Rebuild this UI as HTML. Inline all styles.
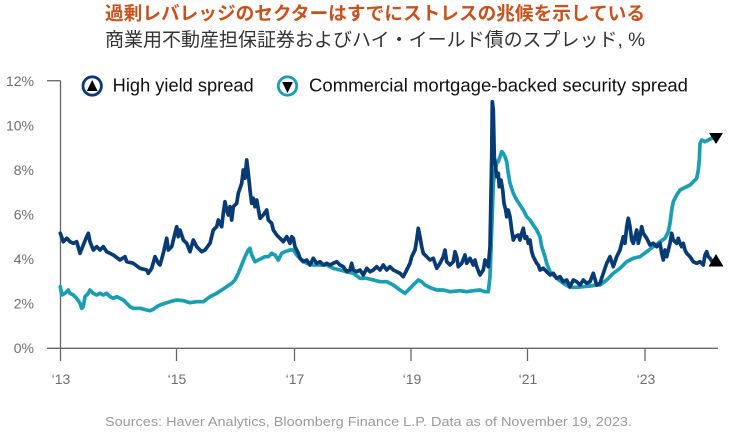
<!DOCTYPE html>
<html><head><meta charset="utf-8"><style>
html,body{margin:0;padding:0;background:#fff;}
svg{display:block;}
</style></head><body>
<svg width="733" height="433" viewBox="0 0 733 433" xmlns="http://www.w3.org/2000/svg">
<rect width="733" height="433" fill="#fff"/>
<text x="105" y="20" font-family="Liberation Sans, Noto Sans CJK JP, sans-serif" font-size="18.5" font-weight="bold" fill="#c9511c" textLength="540" lengthAdjust="spacingAndGlyphs">過剰レバレッジのセクターはすでにストレスの兆候を示している</text>
<text x="105" y="46" font-family="Liberation Sans, Noto Sans CJK JP, sans-serif" font-size="19" fill="#333" textLength="540" lengthAdjust="spacingAndGlyphs">商業用不動産担保証券およびハイ・イールド債のスプレッド, %</text>

<g font-family="Liberation Sans, sans-serif" font-size="14" fill="#6e6e6e" text-anchor="end">
<text x="34" y="86">12%</text>
<text x="34" y="130.5">10%</text>
<text x="34" y="175">8%</text>
<text x="34" y="219.5">6%</text>
<text x="34" y="264">4%</text>
<text x="34" y="308.5">2%</text>
<text x="34" y="353">0%</text>
</g>
<g stroke="#666" stroke-width="1.3" fill="none">
<line x1="60.5" y1="80.7" x2="60.5" y2="348.3"/>
<line x1="47" y1="80.7" x2="60.5" y2="80.7"/>
<line x1="47" y1="348.3" x2="718" y2="348.3"/>
<line x1="60.5" y1="348.3" x2="60.5" y2="361"/>
<line x1="176.5" y1="348.3" x2="176.5" y2="361"/>
<line x1="294.5" y1="348.3" x2="294.5" y2="361"/>
<line x1="411" y1="348.3" x2="411" y2="361"/>
<line x1="527.5" y1="348.3" x2="527.5" y2="361"/>
<line x1="645" y1="348.3" x2="645" y2="361"/>
</g>
<g font-family="Liberation Sans, sans-serif" font-size="14" fill="#6e6e6e" text-anchor="middle">
<text x="61" y="384">‘13</text>
<text x="177" y="384">‘15</text>
<text x="295" y="384">‘17</text>
<text x="412" y="384">‘19</text>
<text x="528" y="384">‘21</text>
<text x="646" y="384">‘23</text>
</g>

<!-- CMBS -->
<polyline fill="none" stroke="#1b9db3" stroke-width="3.7" stroke-linejoin="round" stroke-linecap="round" points="60.3,286.7 61.7,295 65,293.3 68.3,290 70,293.3 73.3,295 76.7,298.3 80,303.3 81.7,308.3 83.3,306.7 85,296.7 88.3,293.3 90,290 93.3,293.3 96.7,295 100,293.3 103.3,295 106.7,293.3 110,296.7 113.3,298.3 116.7,296.7 120,298.3 123.3,300 126.7,303.3 130,306.7 133.3,308.3 140,308.3 146.7,310 150,310.7 153.3,309.3 156.7,306.7 160,305 165,303.3 170,301.7 176.7,300 183.3,300.7 190,302.7 196.7,301.7 203.3,301.7 210,296.7 216.7,293.3 221.7,290 226.7,286.7 231.7,283.3 235,280 238.3,273.3 241.7,265 245,256.7 248.3,250 250,248.3 251.7,255 255,261.7 258.3,260 261.7,258.3 265,256.7 268.3,256.7 271.7,253.3 275,255 278.3,260 281.7,253.3 285,251.7 290,250 293.3,250 296.7,255 300,258.3 306.7,263.3 313.3,265 320,265 326.7,265 333.3,268.3 340,270 346.7,271.7 353.3,273.3 360,278.3 366.7,278.3 373.3,280 380,281.7 386.7,281.7 393.3,285 400,290 405,293.3 410,288.3 415,283.3 418.3,280 421.7,281.7 425,285 428.3,286.7 431.7,288.3 436.7,290 443.3,290 450,291.7 460,290.7 466.7,291.7 473.3,290.7 480,290 485,291.7 488.3,291.7 490,276.7 491.7,230 493.3,183.3 495,170 496.7,163.3 498.3,161.7 500,156.7 501.7,151.7 503.3,153.3 505,156.7 506.7,161.7 508.3,173.3 510,183.3 513.3,193.3 516.7,200 520,205 523.3,210 526.7,216.7 530,220 533.3,225 536.7,230 540,236.7 541.7,246.7 545,256.7 546.7,263.3 550,271.7 556.7,278.3 563.3,283.3 570,287.3 576.7,287.3 583.3,286.7 590,286 596.7,285 600,285 606.7,280 613.3,273.3 620,268.3 626.7,261.7 633.3,258.3 640,256.7 646.7,251.7 653.3,246.7 660,241.7 665,238.3 668.3,231.7 670,223.3 671.7,210 673.3,201.7 676.7,195 680,190 683.3,188.3 686.7,186.7 690,185 693.3,181.7 696.7,178.3 698.3,170 699.3,160 700,143.3 701.7,140 705,141.7 708.3,140 711.7,138.3 714,137"/>

<!-- High yield -->
<polyline fill="none" stroke="#083b73" stroke-width="3.7" stroke-linejoin="round" stroke-linecap="round" points="60.3,233.3 63.3,241.7 66.7,238.3 70,241.7 73.3,243.3 76.7,241.7 80,253.3 83.3,245 86.7,236.7 88.3,233.3 90,241.7 93.3,250 96.7,246.7 100,250 103.3,246.7 106.7,251.7 113.3,255 120,260 125,256.7 126.7,261.7 133.3,263.3 140,268.3 146.7,270 148.3,273.3 151.7,268.3 155,256.7 158.3,263.3 160,265 163.3,253.3 166.7,238.3 168.3,250 171.7,246.7 175,233.3 176.7,226.7 178.3,236.7 180,230 181.7,235 183.3,240 186.7,243.3 190,251.7 193.3,240 196.7,246.7 201.7,251.7 205,250 210,243.3 213.3,230 216.7,226.7 218.3,220 221.7,226.7 223.3,213.3 225,201.7 226.7,210 228.3,215 230,206.7 231.7,220 233.3,206.7 236.7,203.3 238.3,193.3 241.7,183.3 243.3,170 245,178.3 246.7,160 248.3,173.3 250,190 251.7,203.3 253.3,198.3 255,206.7 256.7,200 260,218.3 263.3,215 266.7,210 268.3,220 271.7,223.3 273.3,230 276.7,235 280,238.3 283.3,241.7 286.7,236.7 290,243.3 291.7,236.7 293.3,238.3 295,246.7 298.3,253.3 300,258.3 303.3,261.7 306.7,260 310,265 313.3,258.3 316.7,263.3 320,261.7 323.3,265 326.7,263.3 330,265 333.3,263.3 336.7,261.7 340,265 343.3,266.7 346.7,271.7 350,270 351.7,263.3 353.3,270 356.7,271.7 360,270 363.3,275 366.7,268.3 370,271.7 373.3,270 376.7,266.7 380,270 383.3,265 386.7,270 390,266.7 393.3,270 396.7,271.7 400,273.3 403.3,276.7 406.7,270 410,263.3 411.7,256.7 415,250 416.7,240 418.3,228.3 420,236.7 421.7,246.7 423.3,253.3 426.7,256.7 430,260 433.3,258.3 436.7,268.3 440,263.3 443.3,256.7 445,250 446.7,261.7 450,265 453.3,261.7 455,251.7 456.7,256.7 458.3,266.7 461.7,263.3 465,255 466.7,263.3 470,258.3 473.3,265 475,260 476.7,266.7 480,275 483.3,270 485,260 486.7,263.3 488.3,266.7 490,246.7 491.7,156.7 492.3,101.7 493.3,110 494.3,156.7 495,161.7 496.7,176.7 498.3,173.3 499.3,186.7 501,180 502.7,190 504,203.3 505.7,210 506.7,216.7 508.3,210 510,216.7 511.7,230 513.3,240 515,236.7 518.3,235 520,240 521.7,233.3 523.3,228.3 525,238.3 526.7,236.7 528.3,243.3 530,240 531.7,251.7 533.3,256.7 535,260 536.7,263.3 538.3,265 540,270 543.3,268.3 546.7,271.7 550,275 553.3,273.3 556.7,278.3 560,276.7 563.3,281.7 566.7,280 570,286.7 573.3,280 576.7,281.7 580,285 583.3,280 586.7,283.3 590,281.7 593.3,273.3 596.7,285 600,283.3 603.3,273.3 606.7,263.3 610,256.7 613.3,266.7 616.7,256.7 620,250 623.3,236.7 625,243.3 626.7,226.7 628.3,218.3 630,226.7 631.7,240 633.3,243.3 635,236.7 636.7,230 638.3,243.3 640,236.7 641.7,226.7 643.3,233.3 646.7,238.3 650,245 653.3,243.3 656.7,246.7 660,243.3 661.7,253.3 663.3,260 665,250 666.7,256.7 670,243.3 671.7,233.3 673.3,240 676.7,243.3 678.3,238.3 680,243.3 681.7,246.7 683.3,243.3 685,250 686.7,253.3 690,256.7 693.3,261.7 696.7,263.3 700,261.7 703.3,265 705,255 706.7,251.7 708.3,256.7 710,258.3 713.3,263.3"/>

<!-- end markers -->
<polygon points="709,133 723,133 716,144" fill="#000"/>
<polygon points="716,254 723.5,266.5 708.5,266.5" fill="#000"/>

<!-- legend -->
<circle cx="92.2" cy="86" r="9.2" fill="#fff" stroke="#083b73" stroke-width="2.8"/>
<polygon points="92.2,80 97.6,91 86.8,91" fill="#000"/>
<text x="112.7" y="91.3" font-family="Liberation Sans, sans-serif" font-size="18" fill="#111" textLength="141" lengthAdjust="spacingAndGlyphs">High yield spread</text>
<circle cx="287.5" cy="86" r="9.2" fill="#fff" stroke="#1b9db3" stroke-width="2.8"/>
<polygon points="282.1,82 292.9,82 287.5,93" fill="#000"/>
<text x="309" y="91.3" font-family="Liberation Sans, sans-serif" font-size="18" fill="#111" textLength="379" lengthAdjust="spacingAndGlyphs">Commercial mortgage-backed security spread</text>

<text x="105" y="426" font-family="Liberation Sans, sans-serif" font-size="13" fill="#9a9a9a" textLength="527" lengthAdjust="spacingAndGlyphs">Sources: Haver Analytics, Bloomberg Finance L.P. Data as of November 19, 2023.</text>
</svg>
</body></html>
